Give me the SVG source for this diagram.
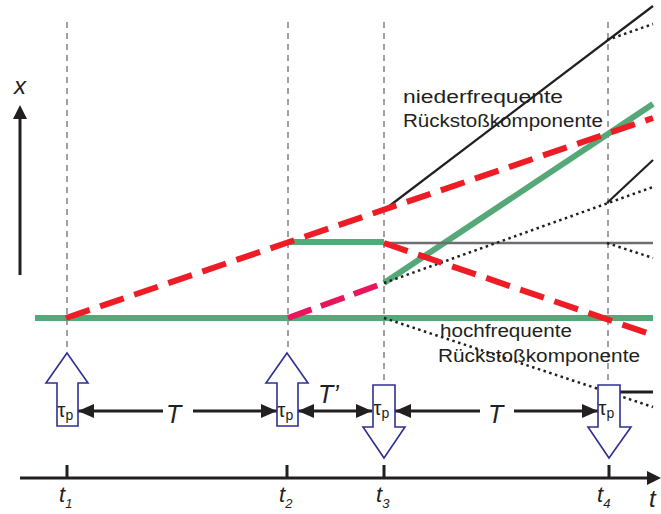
<svg xmlns="http://www.w3.org/2000/svg" width="661" height="514" viewBox="0 0 661 514">
<style>
.grid{stroke:#555;stroke-width:1.1;stroke-dasharray:6 5;fill:none}
.green{stroke:#55a877;stroke-width:6;fill:none}
.red{stroke:#ee1c25;stroke-width:6;stroke-dasharray:25 11;fill:none}
.pink{stroke:#e8175d;stroke-width:6;stroke-dasharray:25 10;fill:none}
.blk{stroke:#231f20;stroke-width:2.2;fill:none}
.dot{stroke:#231f20;stroke-width:2.5;stroke-dasharray:2.5 3.5;fill:none}
.gray{stroke:#6d6e71;stroke-width:2.5;fill:none}
.pulse{fill:#fff;stroke:#2e3192;stroke-width:1.6}
.axis{stroke:#231f20;stroke-width:3;fill:none}
.arr{stroke:#231f20;stroke-width:3;fill:none}
.lbl{font-family:"Liberation Sans",Arial,sans-serif;fill:#231f20}
.it{font-style:italic}
</style>
<defs>
<marker id="ah" viewBox="0 0 16 14" refX="16" refY="7" markerWidth="16" markerHeight="14" markerUnits="userSpaceOnUse" orient="auto-start-reverse">
<path d="M0,0 L16,7 L0,14 Z" fill="#231f20"/>
</marker>
</defs>

<g id="gridlines">
<line class="grid" x1="67" y1="22" x2="67" y2="352"/>
<line class="grid" x1="288" y1="22" x2="288" y2="352"/>
<line class="grid" x1="384" y1="22" x2="384" y2="385"/>
<line class="grid" x1="608" y1="22" x2="608" y2="385"/>
</g>

<g id="connectors">
<line class="green" x1="35" y1="318" x2="653" y2="318"/>
<line class="green" x1="288" y1="242" x2="384" y2="242"/>
<line class="green" x1="384" y1="283" x2="653" y2="104"/>
<line class="gray" x1="384" y1="243" x2="653" y2="243"/>
<line class="blk" x1="384" y1="210" x2="653" y2="6"/>
<line class="blk" x1="607" y1="203" x2="653" y2="160"/>
<line class="blk" x1="607" y1="392" x2="653" y2="392" style="stroke-width:3"/>
<line class="dot" x1="607" y1="40" x2="653" y2="24"/>
<line class="dot" x1="384" y1="283" x2="653" y2="187"/>
<line class="dot" x1="607" y1="243" x2="653" y2="258"/>
<line class="dot" x1="384" y1="318" x2="653" y2="407"/>
<line class="red" x1="66" y1="318" x2="653" y2="118"/>
<line class="red" x1="384" y1="243" x2="653" y2="335"/>
<line class="pink" x1="288" y1="318" x2="384" y2="283"/>
<line class="arr" x1="78" y1="411" x2="163" y2="411" marker-start="url(#ah)"/>
<line class="arr" x1="193" y1="411" x2="277" y2="411" marker-end="url(#ah)"/>
<line class="arr" x1="298" y1="411" x2="372" y2="411" marker-start="url(#ah)" marker-end="url(#ah)"/>
<line class="arr" x1="395" y1="411" x2="480" y2="411" marker-start="url(#ah)"/>
<line class="arr" x1="514" y1="411" x2="598" y2="411" marker-end="url(#ah)"/>
</g>

<g id="axes">
<line class="axis" x1="20" y1="275" x2="20" y2="115"/>
<path d="M20,105 L13,119 L27,119 Z" fill="#231f20"/>
<line class="axis" x1="20" y1="478" x2="650" y2="478"/>
<path d="M661,478 L647,471 L647,485 Z" fill="#231f20"/>
<line class="axis" x1="67" y1="465" x2="67" y2="478"/>
<line class="axis" x1="287" y1="465" x2="287" y2="478"/>
<line class="axis" x1="384" y1="465" x2="384" y2="478"/>
<line class="axis" x1="609" y1="465" x2="609" y2="478"/>
<text class="lbl it" x="14" y="94" font-size="24">x</text>
<text class="lbl it" x="649" y="507" font-size="24">t</text>
<text class="lbl it" x="59" y="502" font-size="22">t<tspan font-size="13" dy="6">1</tspan></text>
<text class="lbl it" x="279" y="502" font-size="22">t<tspan font-size="13" dy="6">2</tspan></text>
<text class="lbl it" x="376" y="502" font-size="22">t<tspan font-size="13" dy="6">3</tspan></text>
<text class="lbl it" x="597" y="502" font-size="22">t<tspan font-size="13" dy="6">4</tspan></text>
</g>

<g id="pulse1">
<path class="pulse" d="M67,353 L88,383 L78,383 L78,426 L57,426 L57,383 L46,383 Z"/>
<text class="lbl" x="57.5" y="417" font-size="20">τ<tspan font-size="14" dy="3">p</tspan></text>
</g>
<g id="pulse2">
<path class="pulse" d="M287,353 L308,383 L298,383 L298,426 L277,426 L277,383 L266,383 Z"/>
<text class="lbl" x="277.5" y="417" font-size="20">τ<tspan font-size="14" dy="3">p</tspan></text>
</g>
<g id="pulse3">
<path class="pulse" d="M373,385 L395,385 L395,427 L405,427 L384,458 L363,427 L373,427 Z"/>
<text class="lbl" x="373.5" y="415" font-size="20">τ<tspan font-size="14" dy="3">p</tspan></text>
</g>
<g id="pulse4">
<path class="pulse" d="M598,385 L620,385 L620,427 L631,427 L609,458 L588,427 L598,427 Z"/>
<text class="lbl" x="598.5" y="415" font-size="20">τ<tspan font-size="14" dy="3">p</tspan></text>
</g>

<g id="labels">
<text class="lbl it" x="166" y="423" font-size="25">T</text>
<text class="lbl it" x="318" y="403" font-size="25">T’</text>
<text class="lbl it" x="488" y="423" font-size="25">T</text>
<text class="lbl" x="403" y="103" font-size="18" textLength="160" lengthAdjust="spacingAndGlyphs">niederfrequente</text>
<text class="lbl" x="403" y="127" font-size="18" textLength="200" lengthAdjust="spacingAndGlyphs">Rückstoßkomponente</text>
<text class="lbl" x="440" y="337" font-size="18" textLength="132" lengthAdjust="spacingAndGlyphs">hochfrequente</text>
<text class="lbl" x="438" y="362" font-size="18" textLength="202" lengthAdjust="spacingAndGlyphs">Rückstoßkomponente</text>
</g>
</svg>
